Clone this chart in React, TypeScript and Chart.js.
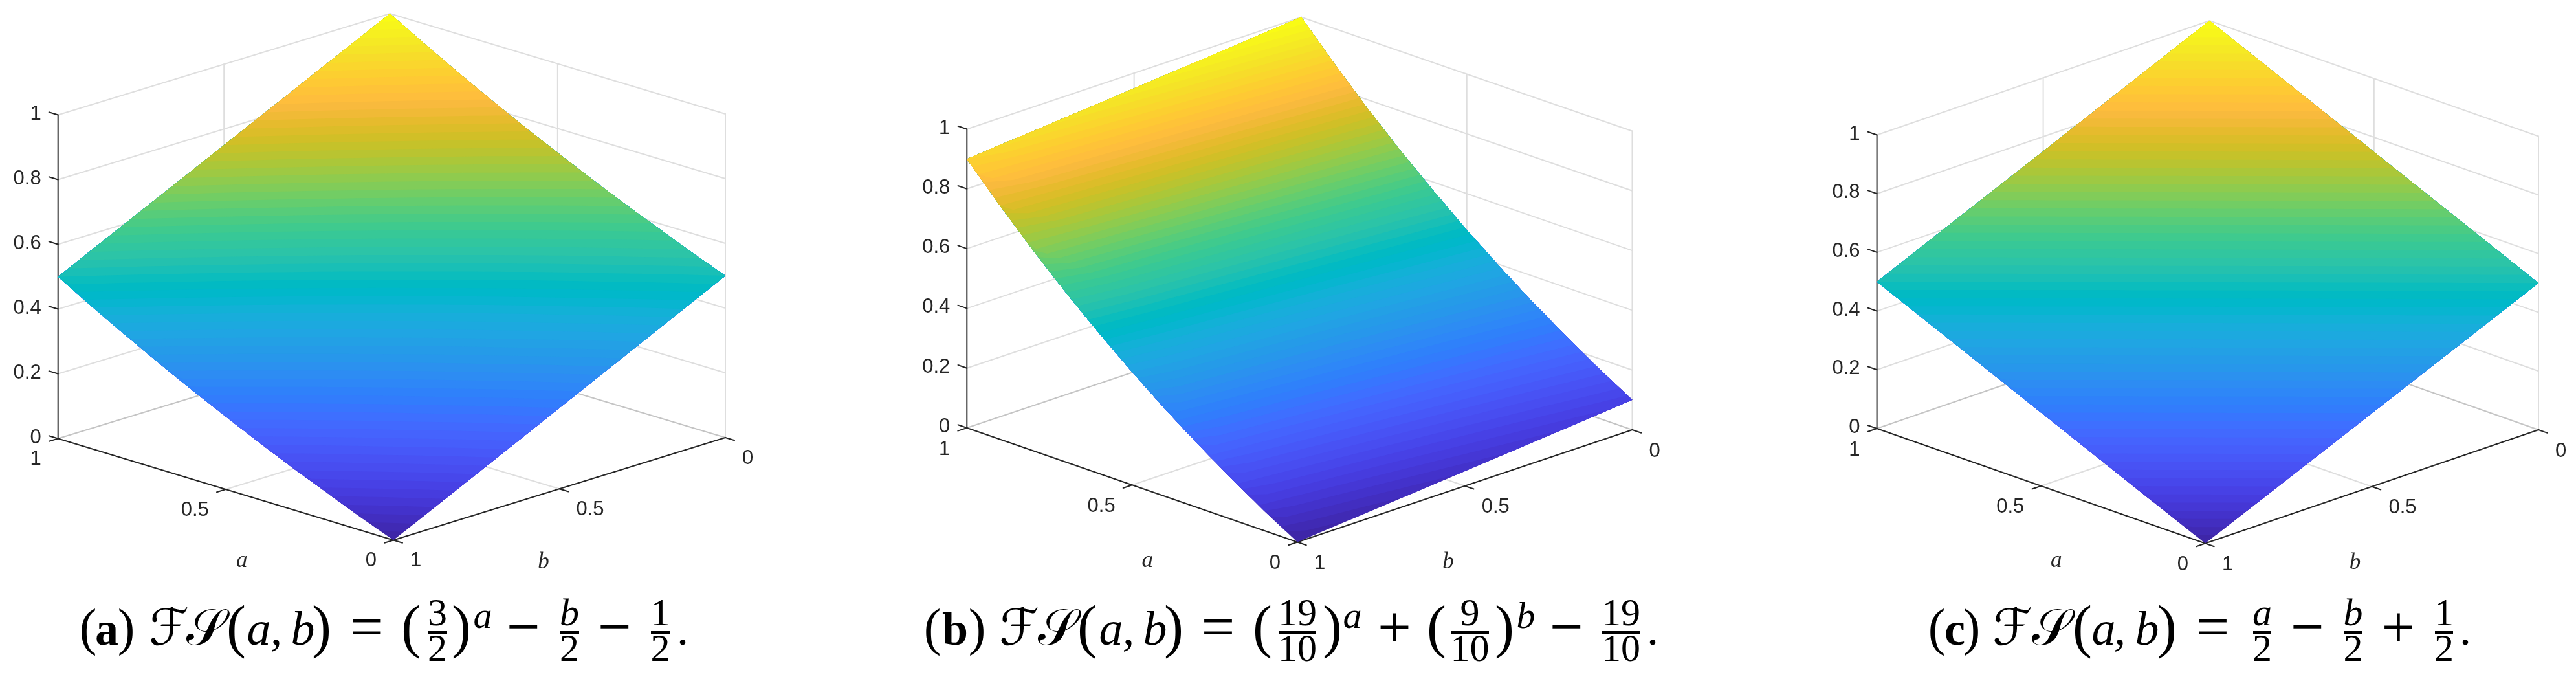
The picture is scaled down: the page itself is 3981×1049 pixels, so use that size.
import React, { useEffect, useRef } from "react";
import { Chart, registerables } from "chart.js";

Chart.register(...registerables);

// ---------- values ----------
const aGrid = [0, 0.1, 0.2, 0.3, 0.4, 0.5, 0.6, 0.7, 0.8, 0.9, 1];
const bGrid = [0, 0.1, 0.2, 0.3, 0.4, 0.5, 0.6, 0.7, 0.8, 0.9, 1];
const zTicks = [0, 0.2, 0.4, 0.6, 0.8, 1];
const zTickLabels = ["0", "0.2", "0.4", "0.6", "0.8", "1"];
const abTicks = [0, 0.5, 1];
const abTickLabels = ["0", "0.5", "1"];

// rows follow bGrid, columns follow aGrid
const surfaceA = [
  [0.5, 0.541, 0.585, 0.629, 0.676, 0.725, 0.775, 0.828, 0.883, 0.94, 1.0],
  [0.45, 0.491, 0.535, 0.579, 0.626, 0.675, 0.725, 0.778, 0.833, 0.89, 0.95],
  [0.4, 0.441, 0.485, 0.529, 0.576, 0.625, 0.675, 0.728, 0.783, 0.84, 0.9],
  [0.35, 0.391, 0.435, 0.479, 0.526, 0.575, 0.625, 0.678, 0.733, 0.79, 0.85],
  [0.3, 0.341, 0.385, 0.429, 0.476, 0.525, 0.575, 0.628, 0.683, 0.74, 0.8],
  [0.25, 0.291, 0.335, 0.379, 0.426, 0.475, 0.525, 0.578, 0.633, 0.69, 0.75],
  [0.2, 0.241, 0.285, 0.329, 0.376, 0.425, 0.475, 0.528, 0.583, 0.64, 0.7],
  [0.15, 0.191, 0.235, 0.279, 0.326, 0.375, 0.425, 0.478, 0.533, 0.59, 0.65],
  [0.1, 0.141, 0.185, 0.229, 0.276, 0.325, 0.375, 0.428, 0.483, 0.54, 0.6],
  [0.05, 0.091, 0.135, 0.179, 0.226, 0.275, 0.325, 0.378, 0.433, 0.49, 0.55],
  [0.0, 0.041, 0.085, 0.129, 0.176, 0.225, 0.275, 0.328, 0.383, 0.44, 0.5],
];
const surfaceB = [
  [0.1, 0.166, 0.237, 0.312, 0.393, 0.478, 0.57, 0.667, 0.771, 0.882, 1.0],
  [0.09, 0.156, 0.226, 0.302, 0.382, 0.468, 0.559, 0.657, 0.761, 0.871, 0.99],
  [0.079, 0.145, 0.216, 0.291, 0.372, 0.458, 0.549, 0.646, 0.75, 0.861, 0.979],
  [0.069, 0.135, 0.206, 0.281, 0.361, 0.447, 0.539, 0.636, 0.74, 0.851, 0.969],
  [0.059, 0.125, 0.196, 0.271, 0.351, 0.437, 0.529, 0.626, 0.73, 0.841, 0.959],
  [0.049, 0.115, 0.186, 0.261, 0.341, 0.427, 0.519, 0.616, 0.72, 0.831, 0.949],
  [0.039, 0.105, 0.176, 0.251, 0.331, 0.417, 0.509, 0.606, 0.71, 0.821, 0.939],
  [0.029, 0.095, 0.166, 0.241, 0.321, 0.407, 0.499, 0.596, 0.7, 0.811, 0.929],
  [0.019, 0.086, 0.156, 0.231, 0.312, 0.398, 0.489, 0.586, 0.69, 0.801, 0.919],
  [0.01, 0.076, 0.146, 0.222, 0.302, 0.388, 0.479, 0.577, 0.681, 0.791, 0.91],
  [0.0, 0.066, 0.137, 0.212, 0.292, 0.378, 0.47, 0.567, 0.671, 0.782, 0.9],
];
const surfaceC = [
  [0.5, 0.55, 0.6, 0.65, 0.7, 0.75, 0.8, 0.85, 0.9, 0.95, 1.0],
  [0.45, 0.5, 0.55, 0.6, 0.65, 0.7, 0.75, 0.8, 0.85, 0.9, 0.95],
  [0.4, 0.45, 0.5, 0.55, 0.6, 0.65, 0.7, 0.75, 0.8, 0.85, 0.9],
  [0.35, 0.4, 0.45, 0.5, 0.55, 0.6, 0.65, 0.7, 0.75, 0.8, 0.85],
  [0.3, 0.35, 0.4, 0.45, 0.5, 0.55, 0.6, 0.65, 0.7, 0.75, 0.8],
  [0.25, 0.3, 0.35, 0.4, 0.45, 0.5, 0.55, 0.6, 0.65, 0.7, 0.75],
  [0.2, 0.25, 0.3, 0.35, 0.4, 0.45, 0.5, 0.55, 0.6, 0.65, 0.7],
  [0.15, 0.2, 0.25, 0.3, 0.35, 0.4, 0.45, 0.5, 0.55, 0.6, 0.65],
  [0.1, 0.15, 0.2, 0.25, 0.3, 0.35, 0.4, 0.45, 0.5, 0.55, 0.6],
  [0.05, 0.1, 0.15, 0.2, 0.25, 0.3, 0.35, 0.4, 0.45, 0.5, 0.55],
  [0.0, 0.05, 0.1, 0.15, 0.2, 0.25, 0.3, 0.35, 0.4, 0.45, 0.5],
];

// ---------- colour map (parula, 64 levels) ----------
const parula = [
  [0.2422, 0.1504, 0.6603], [0.2504, 0.165, 0.7076], [0.2578, 0.1818, 0.7511], [0.2647, 0.1978, 0.7952],
  [0.2706, 0.2147, 0.8364], [0.2751, 0.2342, 0.871], [0.2783, 0.2559, 0.8991], [0.2803, 0.2782, 0.9221],
  [0.2813, 0.3006, 0.9414], [0.281, 0.3228, 0.9579], [0.2795, 0.3447, 0.9717], [0.276, 0.3667, 0.9829],
  [0.2699, 0.3892, 0.9906], [0.2602, 0.4123, 0.9952], [0.244, 0.4358, 0.9988], [0.2206, 0.4603, 0.9973],
  [0.1963, 0.4847, 0.9892], [0.1834, 0.5074, 0.9798], [0.1786, 0.5289, 0.9682], [0.1764, 0.5499, 0.952],
  [0.1687, 0.5703, 0.9359], [0.154, 0.5902, 0.9218], [0.146, 0.6091, 0.9079], [0.138, 0.6276, 0.8973],
  [0.1248, 0.6459, 0.8883], [0.1113, 0.6635, 0.8763], [0.0952, 0.6798, 0.8598], [0.0689, 0.6948, 0.8394],
  [0.0297, 0.7082, 0.8163], [0.0036, 0.7203, 0.7917], [0.0067, 0.7312, 0.766], [0.0433, 0.7411, 0.7394],
  [0.0964, 0.75, 0.712], [0.1408, 0.7584, 0.6842], [0.1717, 0.767, 0.6554], [0.1938, 0.7758, 0.6251],
  [0.2161, 0.7843, 0.5923], [0.247, 0.7918, 0.5567], [0.2906, 0.7973, 0.5188], [0.3406, 0.8008, 0.4789],
  [0.3909, 0.8029, 0.4354], [0.4456, 0.8024, 0.3909], [0.5044, 0.7993, 0.348], [0.5616, 0.7942, 0.3045],
  [0.6196, 0.7884, 0.2646], [0.672, 0.7793, 0.2227], [0.7242, 0.7698, 0.191], [0.7738, 0.7598, 0.1646],
  [0.8203, 0.7498, 0.1535], [0.8634, 0.7406, 0.1596], [0.9035, 0.733, 0.1774], [0.9393, 0.7288, 0.21],
  [0.9728, 0.7298, 0.2394], [0.9956, 0.7434, 0.2371], [0.997, 0.7659, 0.2199], [0.9952, 0.7893, 0.2028],
  [0.9892, 0.8136, 0.1885], [0.9786, 0.8386, 0.1766], [0.9676, 0.8639, 0.1643], [0.961, 0.889, 0.1537],
  [0.9597, 0.9135, 0.1423], [0.9628, 0.9373, 0.1265], [0.9691, 0.9606, 0.1064], [0.9769, 0.9839, 0.0805],
];

// ---------- layout of the three panels ----------
const INK = "#262626";
const GRID = "#dedede";
const FLOOR = "#c4c4c4";
const TICK_FRAC = 0.027;
const CANVAS_H = 1049;

type Tok = [string, number, number, number, string];
const P = "Liberation Serif";
const OP = 92, OPB = 999, PAR = 90, PARB = 998, NUM = 60, NB = 966, DB = 1021;
const SCRIPT_F = "ℱ";
const SCRIPT_S = "𝒮";

const captionA: Tok[] = [
  ["(", 136, 996, 80, "normal"], ["a", 165, 996, 72, "bold"], [")", 195, 996, 80, "normal"],
  [SCRIPT_F, 261, 996, 78, "script"], [SCRIPT_S, 318, 996, 78, "script"],
  ["(", 365, PARB, PAR, "normal"], ["a", 400, 996, 74, "italic"], [",", 427, 996, 74, "italic"], ["b", 468, 996, 74, "italic"], [")", 497, PARB, PAR, "normal"],
  ["=", 567, OPB, OP, "normal"], ["(", 635, PARB, PAR, "normal"], ["3", 676, NB, NUM, "normal"], ["2", 676, DB, NUM, "normal"], [")", 713, PARB, PAR, "normal"],
  ["a", 746, 970, 58, "italic"], ["−", 809, OPB, OP, "normal"], ["b", 880, NB, NUM, "italic"], ["2", 880, DB, NUM, "normal"],
  ["−", 950, OPB, OP, "normal"], ["1", 1020.5, NB, NUM, "normal"], ["2", 1020.5, DB, NUM, "normal"], [".", 1055, 996, 72, "normal"],
];
const barsA = [[661, 691], [865, 895], [1006, 1035]];

const captionB: Tok[] = [
  ["(", 1441, 996, 80, "normal"], ["b", 1476, 996, 72, "bold"], [")", 1510, 996, 80, "normal"],
  [SCRIPT_F, 1575, 996, 78, "script"], [SCRIPT_S, 1634, 996, 78, "script"],
  ["(", 1680, PARB, PAR, "normal"], ["a", 1717, 996, 74, "italic"], [",", 1744, 996, 74, "italic"], ["b", 1785, 996, 74, "italic"], [")", 1814, PARB, PAR, "normal"],
  ["=", 1882.5, OPB, OP, "normal"], ["(", 1951, PARB, PAR, "normal"], ["19", 2005, NB, NUM, "normal"], ["10", 2005, DB, NUM, "normal"], [")", 2059, PARB, PAR, "normal"],
  ["a", 2090, 970, 58, "italic"], ["+", 2155, OPB, OP, "normal"], ["(", 2220, PARB, PAR, "normal"], ["9", 2271.5, NB, NUM, "normal"], ["10", 2271.5, DB, NUM, "normal"], [")", 2325, PARB, PAR, "normal"],
  ["b", 2358, 970, 58, "italic"], ["−", 2421, OPB, OP, "normal"], ["19", 2505, NB, NUM, "normal"], ["10", 2505, DB, NUM, "normal"], [".", 2554, 996, 72, "normal"],
];
const barsB = [[1976, 2034], [2242, 2301], [2476, 2534]];

const captionC: Tok[] = [
  ["(", 2993, 996, 80, "normal"], ["c", 3021, 996, 72, "bold"], [")", 3047, 996, 80, "normal"],
  [SCRIPT_F, 3110, 996, 78, "script"], [SCRIPT_S, 3170, 996, 78, "script"],
  ["(", 3218, PARB, PAR, "normal"], ["a", 3251, 996, 74, "italic"], [",", 3276, 996, 74, "italic"], ["b", 3318, 996, 74, "italic"], [")", 3349, PARB, PAR, "normal"],
  ["=", 3419.5, OPB, OP, "normal"], ["a", 3496, NB, NUM, "italic"], ["2", 3496, DB, NUM, "normal"], ["−", 3566, OPB, OP, "normal"],
  ["b", 3636.5, NB, NUM, "italic"], ["2", 3636.5, DB, NUM, "normal"], ["+", 3706.5, OPB, OP, "normal"], ["1", 3777, NB, NUM, "normal"], ["2", 3777, DB, NUM, "normal"], [".", 3810, 996, 72, "normal"],
];
const barsC = [[3482, 3510], [3622, 3651], [3763, 3791]];

const panels = [
  {
    range: [0, 1327], surface: surfaceA, caption: captionA, bars: barsA,
    B: [608, 834.5], L: [89.7, 677.5], R: [1121, 676], back: [602.7, 521], h: 500,
    aLabel: [25, 112], bLabel: [-24.5, 112], labelDy: 29.5,
  },
  {
    range: [1327, 2654], surface: surfaceB, caption: captionB, bars: barsB,
    B: [2005, 837.5], L: [1494.3, 661], R: [2522.5, 664], back: [2011, 488], h: 461.5,
    aLabel: [23.5, 118.6], bLabel: [-25.7, 116], labelDy: 30.5,
  },
  {
    range: [2654, 3981], surface: surfaceC, caption: captionC, bars: barsC,
    B: [3408, 839.5], L: [2900.6, 662], R: [3923, 664], back: [3414.6, 485.5], h: 453.5,
    aLabel: [23.5, 117.5], bLabel: [-26, 116], labelDy: 30.5,
  },
];

// ---------- projection of (a, b, z) to the chart's x / y scale values ----------
function makeProject(p: any) {
  const dx = p.back[0] - (p.L[0] + p.R[0] - p.B[0]);
  const dy = p.back[1] - (p.L[1] + p.R[1] - p.B[1]);
  return (a: number, b: number, z: number) => {
    const c = 1 - b;
    return {
      x: p.B[0] + a * (p.L[0] - p.B[0]) + c * (p.R[0] - p.B[0]) + a * c * dx,
      y: p.B[1] + a * (p.L[1] - p.B[1]) + c * (p.R[1] - p.B[1]) + a * c * dy - z * p.h,
    };
  };
}

function zAt(t: number[][], a: number, b: number) {
  const i = Math.min(9, Math.floor(a * 10 + 1e-9));
  const j = Math.min(9, Math.floor(b * 10 + 1e-9));
  const u = (a - aGrid[i]) * 10;
  const v = (b - bGrid[j]) * 10;
  return (
    t[j][i] * (1 - u) * (1 - v) + t[j][i + 1] * u * (1 - v) + t[j + 1][i] * (1 - u) * v + t[j + 1][i + 1] * u * v
  );
}

function solveB(t: number[][], a: number, level: number) {
  if (zAt(t, a, 1) >= level) return 1;
  if (zAt(t, a, 0) < level) return 0;
  for (let j = 0; j < 10; j++) {
    const z0 = zAt(t, a, bGrid[j]);
    const z1 = zAt(t, a, bGrid[j + 1]);
    if (z0 >= level && z1 < level) return bGrid[j] + ((z0 - level) / (z0 - z1)) * 0.1;
  }
  return 1;
}

function solveA(t: number[][], level: number) {
  const row = t[0];
  if (row[0] >= level) return 0;
  for (let i = 0; i < 10; i++) {
    if (row[i] < level && row[i + 1] >= level) return aGrid[i] + ((level - row[i]) / (row[i + 1] - row[i])) * 0.1;
  }
  return 1;
}

const SAMPLES = 60;

// outline, on the table, of the part of the surface at or above a height
function regionAbove(t: number[][], level: number, project: any) {
  const pts: { x: number; y: number }[] = [];
  const a0 = solveA(t, level);
  pts.push(project(a0, 0, zAt(t, a0, 0)));
  const pushIso = (a: number) => {
    const b = solveB(t, a, level);
    pts.push(project(a, b, b < 1 ? level : zAt(t, a, 1)));
  };
  if (a0 === 0) pushIso(0);
  for (let s = 1; s <= SAMPLES; s++) {
    const a = s / SAMPLES;
    if (a > a0) pushIso(a);
  }
  const b1 = solveB(t, 1, level);
  for (let j = 10; j >= 0; j--) if (bGrid[j] < b1) pts.push(project(1, bGrid[j], zAt(t, 1, bGrid[j])));
  for (let s = SAMPLES; s >= 0; s--) {
    const a = s / SAMPLES;
    if (a > a0) pts.push(project(a, 0, zAt(t, a, 0)));
  }
  return pts;
}

function buildDatasets(p: any) {
  const project = makeProject(p);
  const line = (points: any[], color: string, width: number) => ({
    data: points, showLine: true, borderColor: color, borderWidth: width, pointRadius: 0, fill: false, clip: false,
    borderCapStyle: "round", borderJoinStyle: "miter",
  });
  const bottom: any[] = [];
  // back walls
  zTicks.forEach((z) => {
    bottom.push(line([project(1, 1, z), project(1, 0, z), project(0, 0, z)], z === 0 ? FLOOR : GRID, 2));
  });
  bottom.push(line([project(1, 0.5, 0), project(1, 0.5, 1)], GRID, 2));
  bottom.push(line([project(0.5, 0, 0), project(0.5, 0, 1)], GRID, 2));
  bottom.push(line([project(0, 0, 0), project(0, 0, 1)], GRID, 2));
  bottom.push(line([project(1, 0, 0), project(1, 0, 1)], GRID, 2));
  // floor
  bottom.push(line([project(0.5, 1, 0), project(0.5, 0, 0)], GRID, 2));
  bottom.push(line([project(0, 0.5, 0), project(1, 0.5, 0)], GRID, 2));
  // axes and ticks
  bottom.push(line([project(1, 1, 0), project(1, 1, 1)], INK, 2));
  bottom.push(line([project(1, 1, 0), project(0, 1, 0)], INK, 2));
  bottom.push(line([project(0, 1, 0), project(0, 0, 0)], INK, 2));
  zTicks.forEach((z) => bottom.push(line([project(1, 1, z), project(1 + TICK_FRAC, 1, z)], INK, 2)));
  abTicks.forEach((a) => bottom.push(line([project(a, 1, 0), project(a, 1 + TICK_FRAC, 0)], INK, 2)));
  abTicks.forEach((b) => bottom.push(line([project(0, b, 0), project(-TICK_FRAC, b, 0)], INK, 2)));
  // surface, painted from the lowest band upward
  parula.forEach((c, k) => {
    const color = `rgb(${Math.round(c[0] * 255)},${Math.round(c[1] * 255)},${Math.round(c[2] * 255)})`;
    bottom.push({
      data: regionAbove(p.surface, k / parula.length, project),
      showLine: true, borderWidth: 0, borderColor: color, backgroundColor: color,
      borderDash: [1, 0], pointRadius: 0, fill: "shape", clip: false,
    });
  });
  // the first dataset is drawn last
  return bottom.reverse();
}

function textPlugin(p: any) {
  const project = makeProject(p);
  return {
    id: "texts",
    afterDraw(chart: any) {
      const { ctx, scales } = chart;
      const X = (v: number) => scales.x.getPixelForValue(v);
      const Y = (v: number) => scales.y.getPixelForValue(v);
      const put = (s: string, x: number, y: number, font: string, align: any, color: string) => {
        ctx.font = font;
        ctx.textAlign = align;
        ctx.textBaseline = "alphabetic";
        ctx.fillStyle = color;
        ctx.fillText(s, X(x), Y(y));
      };
      ctx.save();
      const tickFont = '31px "Liberation Sans"';
      const digitHalf = 11;
      zTicks.forEach((z, i) => {
        const q = project(1, 1, z);
        put(zTickLabels[i], q.x - 26, q.y - 4 + digitHalf, tickFont, "right", INK);
      });
      abTicks.forEach((a, i) => {
        const q = project(a, 1, 0);
        put(abTickLabels[i], q.x - 26, q.y + p.labelDy + digitHalf, tickFont, "right", INK);
      });
      abTicks.forEach((b, i) => {
        const q = project(0, b, 0);
        put(abTickLabels[i], q.x + 26, q.y + p.labelDy + digitHalf, tickFont, "left", INK);
      });
      const axisFont = `italic 35px "${P}"`;
      const qa = project(0.5, 1, 0);
      put("a", qa.x + p.aLabel[0], qa.y + p.aLabel[1] + 8, axisFont, "center", INK);
      const qb = project(0, 0.5, 0);
      put("b", qb.x + p.bLabel[0], qb.y + p.bLabel[1] + 11, axisFont, "center", INK);
      p.caption.forEach((t: Tok) => {
        const font =
          t[4] === "script"
            ? `${t[3]}px "DejaVu Serif", "DejaVu Sans", "${P}"`
            : `${t[4] === "normal" ? "" : t[4] + " "}${t[3]}px "${P}"`;
        put(t[0], t[1], t[2], font, "center", "#000");
      });
      ctx.fillStyle = "#000";
      p.bars.forEach((b: number[]) => {
        ctx.fillRect(X(b[0]), Y(975), X(b[1]) - X(b[0]), 4);
      });
      ctx.restore();
    },
  };
}

function Panel({ p }: { p: any }) {
  const ref = useRef<HTMLCanvasElement>(null);
  useEffect(() => {
    const chart = new Chart(ref.current as HTMLCanvasElement, {
      type: "scatter",
      data: { datasets: buildDatasets(p) },
      options: {
        responsive: false,
        animation: false,
        events: [],
        layout: { padding: 0 },
        plugins: { legend: { display: false }, title: { display: false }, tooltip: { enabled: false } },
        scales: {
          x: { type: "linear", display: false, min: p.range[0], max: p.range[1] },
          y: { type: "linear", display: false, min: 0, max: CANVAS_H, reverse: true },
        },
      },
      plugins: [textPlugin(p)],
    } as any);
    return () => chart.destroy();
  }, [p]);
  return (
    <canvas
      ref={ref}
      width={p.range[1] - p.range[0]}
      height={CANVAS_H}
      style={{
        position: "absolute",
        left: p.range[0],
        top: 0,
        width: p.range[1] - p.range[0],
        height: CANVAS_H,
        display: "block",
      }}
    />
  );
}

export default function App() {
  return (
    <div style={{ position: "fixed", left: 0, top: 0, width: 3981, height: 1049, background: "#fff", overflow: "hidden" }}>
      {panels.map((p, i) => (
        <Panel key={i} p={p} />
      ))}
    </div>
  );
}
